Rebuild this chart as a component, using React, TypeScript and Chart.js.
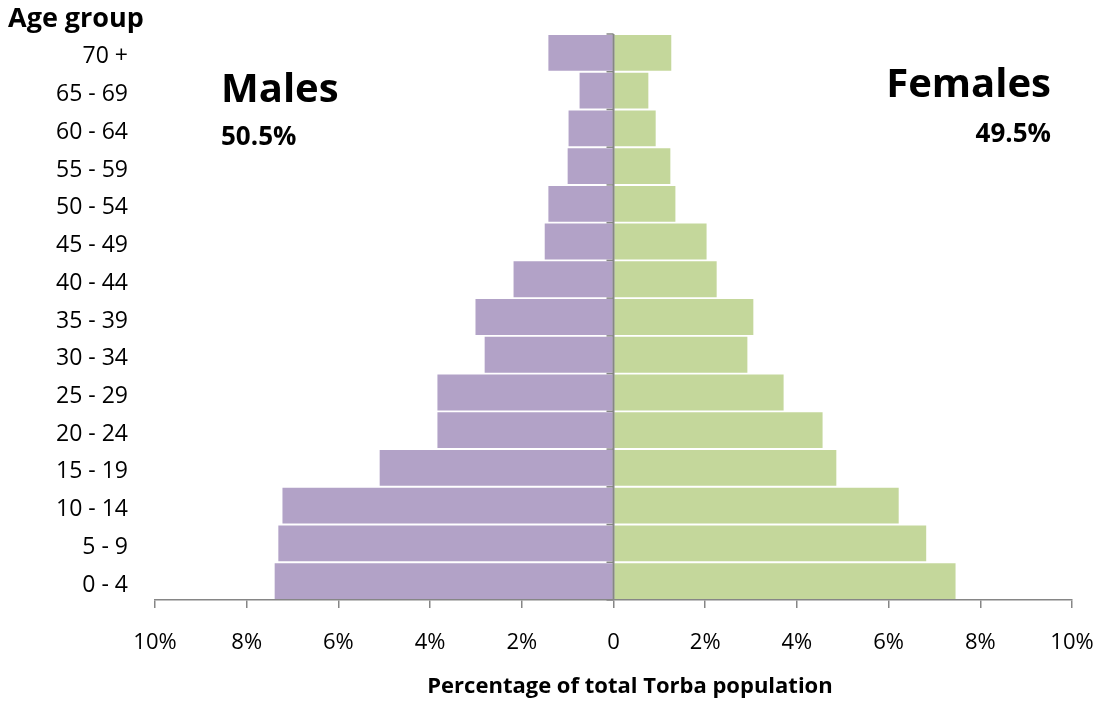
import React, { useEffect, useRef } from "react";
import { Chart, registerables } from "chart.js";

Chart.register(...registerables);

const ageGroups = ["70 +", "65 - 69", "60 - 64", "55 - 59", "50 - 54", "45 - 49", "40 - 44", "35 - 39", "30 - 34", "25 - 29", "20 - 24", "15 - 19", "10 - 14", "5 - 9", "0 - 4"];
const malesPct = [1.42, 0.74, 0.98, 1.0, 1.42, 1.5, 2.18, 3.01, 2.81, 3.84, 3.84, 5.1, 7.22, 7.31, 7.39];
const femalesPct = [1.26, 0.76, 0.92, 1.24, 1.35, 2.03, 2.25, 3.05, 2.92, 3.71, 4.56, 4.86, 6.22, 6.82, 7.46];
const xTicks = [-10, -8, -6, -4, -2, 0, 2, 4, 6, 8, 10];
const maleTotal = "50.5%";
const femaleTotal = "49.5%";

const FONT = "'Open Sans', 'Noto Sans', sans-serif";

export default function App() {
  const ref = useRef<HTMLCanvasElement | null>(null);
  useEffect(() => {
    document.body.style.margin = "0";
    const canvas = ref.current!;
    const overlay = {
      id: "overlay",
      afterDraw(chart: any) {
        const ctx = chart.ctx as CanvasRenderingContext2D;
        const xs = chart.scales.x;
        const area = chart.chartArea;
        const x0 = xs.getPixelForValue(0);
        ctx.save();
        // centre line
        ctx.strokeStyle = "#868686";
        ctx.lineWidth = 2;
        ctx.beginPath();
        ctx.moveTo(x0, area.top);
        ctx.lineTo(x0, area.bottom);
        ctx.stroke();
        // small category ticks
        ctx.lineWidth = 1.5;
        const n = ageGroups.length;
        const step = (area.bottom - area.top) / n;
        for (let i = 0; i <= n; i++) {
          const y = area.top + i * step;
          ctx.beginPath();
          ctx.moveTo(x0 - 7, y);
          ctx.lineTo(x0, y);
          ctx.stroke();
        }
        ctx.fillStyle = "#000";
        ctx.textBaseline = "alphabetic";
        ctx.font = `bold 27px ${FONT}`;
        ctx.textAlign = "left";
        ctx.fillText("Age group", 8, 27);
        ctx.font = `bold 40px ${FONT}`;
        ctx.fillText("Males", 221, 102);
        ctx.font = `bold 26px ${FONT}`;
        ctx.fillText(maleTotal, 221, 145);
        ctx.textAlign = "right";
        ctx.font = `bold 40px ${FONT}`;
        ctx.fillText("Females", 1051, 97);
        ctx.font = `bold 26px ${FONT}`;
        ctx.fillText(femaleTotal, 1051, 142);
        ctx.textAlign = "center";
        ctx.font = `bold 22px ${FONT}`;
        ctx.fillText("Percentage of total Torba population", 630, 693);
        ctx.restore();
      },
    };
    const chart = new Chart(canvas, {
      type: "bar",
      data: {
        labels: ageGroups,
        datasets: [
          {
            label: "Males",
            data: malesPct.map((v) => -v),
            backgroundColor: "#B2A2C7",
            barPercentage: 0.95,
            categoryPercentage: 1,
          },
          {
            label: "Females",
            data: femalesPct,
            backgroundColor: "#C4D79B",
            barPercentage: 0.95,
            categoryPercentage: 1,
          },
        ],
      },
      options: {
        indexAxis: "y",
        animation: false,
        responsive: false,
        layout: { padding: { top: 34, right: 28, left: 0, bottom: 0 } },
        plugins: { legend: { display: false }, tooltip: { enabled: false } },
        scales: {
          x: {
            stacked: true,
            min: -10,
            max: 10,
            afterBuildTicks(scale: any) {
              scale.ticks = xTicks.map((v) => ({ value: v }));
            },
            afterFit(scale: any) {
              scale.height = 103;
              scale.paddingLeft = 0;
              scale.paddingRight = 0;
            },
            ticks: {
              color: "#000",
              font: { family: FONT, size: 22 },
              padding: 22,
              maxRotation: 0,
              callback: (v: any) => (Number(v) === 0 ? "0" : Math.abs(Number(v)) + "%"),
            },
            grid: {
              drawOnChartArea: false,
              drawTicks: true,
              tickLength: 8,
              color: "#868686",
              lineWidth: 1.5,
            },
            border: { display: true, color: "#868686", width: 1.5 },
          },
          y: {
            stacked: true,
            afterFit(scale: any) {
              scale.width = 155;
              scale.paddingTop = 0;
              scale.paddingBottom = 0;
            },
            ticks: {
              color: "#000",
              font: { family: FONT, size: 23 },
              padding: 27,
              labelOffset: 4,
            },
            grid: { display: false, drawTicks: false },
            border: { display: false },
          },
        },
      },
      plugins: [overlay],
    });
    return () => chart.destroy();
  }, []);
  return <canvas ref={ref} width={1100} height={703} style={{ display: "block" }} />;
}
